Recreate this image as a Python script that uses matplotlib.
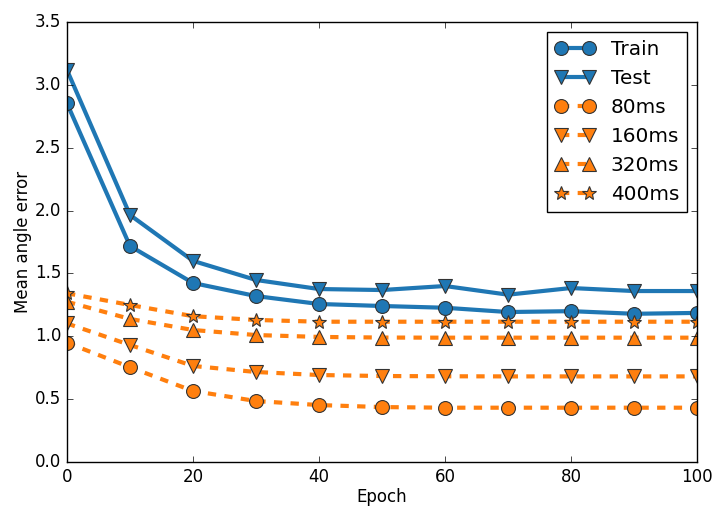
import matplotlib
matplotlib.use('Agg')
import matplotlib.pyplot as plt
import numpy as np

plt.style.use('classic')

epochs = np.arange(0, 101, 10)
train = [2.853, 1.718, 1.424, 1.32, 1.257, 1.241, 1.227, 1.193, 1.20, 1.179, 1.186]
test = [3.118, 1.965, 1.60, 1.448, 1.376, 1.368, 1.40, 1.331, 1.384, 1.36, 1.36]
ms80 = [0.949, 0.754, 0.565, 0.485, 0.453, 0.437, 0.432, 0.432, 0.432, 0.432, 0.432]
ms160 = [1.102, 0.931, 0.764, 0.716, 0.692, 0.684, 0.682, 0.681, 0.681, 0.681, 0.681]
ms320 = [1.275, 1.138, 1.05, 1.01, 0.995, 0.99, 0.989, 0.989, 0.989, 0.989, 0.989]
ms400 = [1.342, 1.249, 1.16, 1.13, 1.116, 1.116, 1.116, 1.116, 1.116, 1.116, 1.116]

blue = '#1f77b4'
orange = '#ff7f0e'

fig = plt.figure(figsize=(7.25, 5.24), dpi=100, facecolor='white')
ax = fig.add_axes([0.0924, 0.1183, 0.869, 0.8397])

common = dict(lw=3, ms=10, mec='0.2', mew=0.8)
ax.plot(epochs, train, '-', color=blue, marker='o', label='Train', **common)
ax.plot(epochs, test, '-', color=blue, marker='v', label='Test', **common)
ax.plot(epochs, ms80, '--', color=orange, marker='o', label='80ms', **common)
ax.plot(epochs, ms160, '--', color=orange, marker='v', label='160ms', **common)
ax.plot(epochs, ms320, '--', color=orange, marker='^', label='320ms', **common)
ax.plot(epochs, ms400, '--', color=orange, marker='*', label='400ms', **common)

ax.set_xlim(0, 100)
ax.set_ylim(0, 3.5)
ax.set_xlabel('Epoch', labelpad=2)
ax.set_ylabel('Mean angle error', labelpad=2)
ax.legend(loc='upper right', numpoints=2)

fig.savefig('out.png', dpi=100, facecolor='white')
